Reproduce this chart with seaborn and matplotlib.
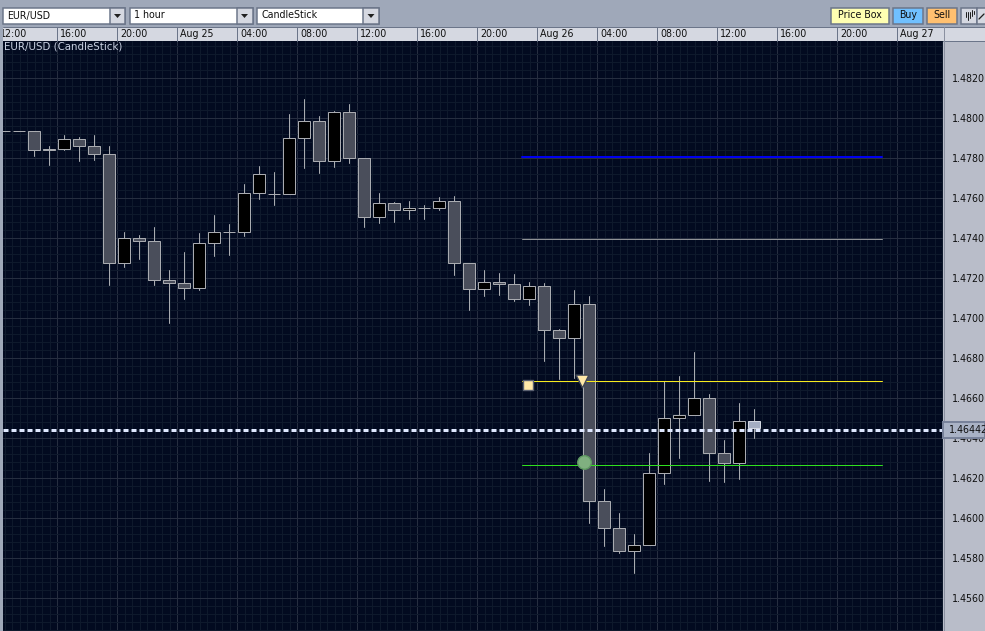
import numpy as np
import pandas as pd
import matplotlib
matplotlib.use("Agg")
import matplotlib.pyplot as plt
from matplotlib.patches import Rectangle
from matplotlib.transforms import Bbox
import seaborn as sns

# ---- EUR/USD hourly candles, hours counted from Aug 24 00:00 ----
hours = list(range(12, 63))
opens = [1.47935, 1.47935, 1.47935, 1.47845, 1.47845, 1.47895, 1.4786, 1.4782, 1.47275, 1.4740, 1.47385,
         1.4719, 1.47175, 1.4715, 1.47375, 1.4743, 1.4743, 1.47625, 1.4762, 1.4762, 1.4790, 1.47985, 1.47785,
         1.4803, 1.4780, 1.47505, 1.47575, 1.4754, 1.4755, 1.4755, 1.47585, 1.47275, 1.47145, 1.4718, 1.4717,
         1.47095, 1.4716, 1.4694, 1.469, 1.4707, 1.46085, 1.4595, 1.45835, 1.45865, 1.46225, 1.465, 1.46515,
         1.4660, 1.46325, 1.46275, 1.46485]
closes = [1.47935, 1.47935, 1.4784, 1.4784, 1.47895, 1.4786, 1.4782, 1.47275, 1.4740, 1.47385, 1.4719,
          1.47175, 1.4715, 1.47375, 1.4743, 1.4743, 1.47625, 1.4772, 1.4762, 1.4790, 1.47985, 1.47785, 1.4803,
          1.4780, 1.47505, 1.47575, 1.4754, 1.4755, 1.4755, 1.47585, 1.47275, 1.47145, 1.4718, 1.4717, 1.47095,
          1.4716, 1.4694, 1.469, 1.4707, 1.46085, 1.4595, 1.45835, 1.45865, 1.46225, 1.465, 1.46515, 1.4660,
          1.46325, 1.46275, 1.46485, 1.4645]
highs = [1.47935, 1.47935, 1.47935, 1.4786, 1.47915, 1.47905, 1.47915, 1.4786, 1.4743, 1.47415, 1.47455,
         1.4724, 1.4733, 1.47425, 1.47515, 1.4747, 1.4767, 1.4776, 1.4773, 1.4802, 1.48095, 1.4801, 1.48035,
         1.4807, 1.4780, 1.47625, 1.4758, 1.47585, 1.47565, 1.47605, 1.4761, 1.47275, 1.4724, 1.47225, 1.4722,
         1.4718, 1.47175, 1.46945, 1.4714, 1.4711, 1.46145, 1.46025, 1.4592, 1.46325, 1.46685, 1.4671, 1.4683,
         1.4662, 1.4639, 1.46575, 1.46545]
lows = [1.47935, 1.47935, 1.4781, 1.47765, 1.4784, 1.47785, 1.4779, 1.47165, 1.47255, 1.47295, 1.47165,
        1.46975, 1.47095, 1.4714, 1.4731, 1.47315, 1.4741, 1.47595, 1.47565, 1.4762, 1.4775, 1.47725, 1.47755,
        1.47775, 1.47455, 1.47475, 1.4748, 1.47495, 1.47495, 1.4754, 1.47215, 1.4704, 1.4711, 1.47115, 1.47085,
        1.47065, 1.46785, 1.46695, 1.4670, 1.45975, 1.4586, 1.45825, 1.45725, 1.45865, 1.4617, 1.4630, 1.46515,
        1.46185, 1.4618, 1.46195, 1.4640]

# ---- Horizontal order levels and the current quote ----
level_prices = [1.47805, 1.47395, 1.46685, 1.46265]
level_colors = ["#0000f0", "#8f9296", "#f7ea1e", "#2fe01e"]
level_widths = [2.0, 1.0, 1.0, 1.0]
level_span = [47, 71]
current_price = 1.46442
current_label = "1.46442"

# ---- Order markers: hour, price ----
entry_point = [47.4, 1.46665]
sell_point = [51.0, 1.46685]
exit_point = [51.1, 1.4628]

# ---- Axis text ----
time_hours = list(range(12, 76, 4))
time_labels = ["12:00", "16:00", "20:00", "Aug 25", "04:00", "08:00", "12:00", "16:00", "20:00", "Aug 26",
               "04:00", "08:00", "12:00", "16:00", "20:00", "Aug 27"]
price_ticks = [1.4820, 1.4800, 1.4780, 1.4760, 1.4740, 1.4720, 1.4700, 1.4680, 1.4660, 1.4640, 1.4620,
               1.4600, 1.4580, 1.4560]
clipped_price_tick = 1.4840

W, H = 985, 631
PX = 0.72          # one pixel at 100 dpi, in points
FONT = "DejaVu Sans"
SIZE = 6.85
CANDLE_OFFSET = 7 / 15   # candles sit slightly right of their hour line

PANEL = "#b9bdc9"
TOOLBAR = "#9fa8b9"
HEADER = "#d5d8e1"
BORDER = "#6b7589"
CHART_BG = "#020a20"
MINOR = "#0e192c"
MAJOR = "#262e40"
TEXT = "#101010"

sns.set_theme(style="dark", rc={"font.family": FONT, "axes.linewidth": 0})
fig = plt.figure(figsize=(W / 100, H / 100), dpi=100, facecolor=PANEL)

# Window furniture, laid out in pixels underneath the chart
ui = fig.add_axes([0, 0, 1, 1], zorder=-1)
ui.set_xlim(0, W)
ui.set_ylim(H, 0)
ui.axis("off")


def box(x0, y0, x1, y1, face, edge=BORDER, lw=PX * 1.5):
    ui.add_patch(Rectangle((x0, y0), x1 - x0, y1 - y0, facecolor=face, edgecolor=edge, linewidth=lw))


def label(x, y, s, ha="left", color=TEXT, size=SIZE):
    ui.text(x, y, s, ha=ha, va="center", color=color, fontsize=size, family=FONT)


ui.add_patch(Rectangle((0, 0), W, 27, facecolor=TOOLBAR, edgecolor="none"))
ui.add_patch(Rectangle((0, 27), 3, H - 27, facecolor=TOOLBAR, edgecolor="none"))
ui.add_patch(Rectangle((3, 27), W - 3, 14, facecolor=HEADER, edgecolor="none"))
ui.plot([3, W], [26.5, 26.5], color=BORDER, lw=PX)
ui.plot([3, W], [40.5, 40.5], color=BORDER, lw=PX)
ui.plot([943.5, 943.5], [27, H], color="#8a90a0", lw=PX)

for x0, x1, split, text in [(3, 125, 110, "EUR/USD"), (129.5, 252.5, 236.5, "1 hour"), (256.5, 379, 363, "CandleStick")]:
    box(x0, 7.5, x1, 23.5, "white")
    box(split, 7.5, x1, 23.5, HEADER)
    mid = (split + x1) / 2
    ui.fill([mid - 3.5, mid + 3.5, mid], [14, 14, 18], color="#202020", lw=0)
    label(x0 + 4.5, 15.5, text)

box(830.5, 7.5, 888.5, 23.5, "#ffffb2")
label(859.5, 15.5, "Price Box", ha="center")
box(892.5, 7.5, 923, 23.5, "#70c0ff")
label(907.7, 15.5, "Buy", ha="center")
box(926.5, 7.5, 956.5, 23.5, "#ffc070")
label(941.5, 15.5, "Sell", ha="center")
box(960.5, 7.5, 976.5, 23.5, HEADER)
box(977, 7.5, 990, 23.5, HEADER)
for x, y0, y1 in [(965.5, 12, 17), (967.5, 12, 20), (969.5, 12, 18), (971.5, 10, 16), (973.5, 11, 14)]:
    ui.plot([x, x], [y0, y1], color="#202020", lw=PX)
ui.plot([979, 984], [19, 14], color="#202020", lw=PX * 1.3)

# Price chart, scaled so that 1 hour is 15 px and 0.0020 is 40 px
ax = fig.add_axes([3 / W, 0, 940 / W, (H - 41) / H], zorder=1, facecolor=CHART_BG)
x_limits = (16 + (3 - 57.0) / 15, 16 + (943 - 57.0) / 15)
y_limits = (1.4820 - (H - 78.0) * 0.00005, 1.4820 + (78.0 - 41) * 0.00005)

ax.set_xticks(time_hours)
ax.set_xticks(np.arange(8, 80, 0.5), minor=True)
ax.set_yticks(price_ticks)
ax.set_yticks(np.arange(1.4540, 1.4850, 0.0004), minor=True)
ax.grid(which="minor", color=MINOR, lw=PX)
ax.grid(which="major", color=MAJOR, lw=PX)
ax.set_axisbelow(True)
ax.yaxis.tick_right()
ax.set_yticklabels([f"{p:.4f}" for p in price_ticks], family=FONT, fontsize=SIZE, color=TEXT)
ax.tick_params(which="both", length=0, bottom=False, top=False, left=False, right=False)
ax.tick_params(axis="y", which="major", pad=8.5 * 0.72)
ax.tick_params(axis="x", which="both", labelbottom=False, labeltop=False)

candles = pd.DataFrame({"hour": hours, "open": opens, "close": closes, "high": highs, "low": lows})
candles["x"] = candles["hour"] + CANDLE_OFFSET

# Wicks first, one line per candle, so the bodies sit on top of them
wicks = candles.melt(id_vars=["hour", "x"], value_vars=["high", "low"], value_name="price")
sns.lineplot(data=wicks, x="x", y="price", units="hour", estimator=None, color="#a9abb0", lw=PX,
             sort=False, legend=False, ax=ax, zorder=3)

is_up = candles["close"] > candles["open"]
fills = list(np.where(is_up, "#000000", "#4a4e5b"))
edges = ["#a9abb0"] * len(candles)
fills[-1] = "#a4adc2"          # the candle still forming
edges[-1] = "#d3d7e2"
ax.bar(candles["x"], (candles["close"] - candles["open"]).abs(),
       bottom=candles[["open", "close"]].min(axis=1), width=0.8, color=fills, edgecolor=edges, linewidth=PX, zorder=4)

# Order levels
for price, color, width in zip(level_prices, level_colors, level_widths):
    level = pd.DataFrame({"x": level_span, "y": [price, price]})
    sns.lineplot(data=level, x="x", y="y", color=color, lw=width * PX, legend=False, ax=ax, zorder=5)

# Current quote: dashed line across the chart and a tag on the price scale
ax.axhline(current_price, color="#dfe8ff", lw=3 * PX, dashes=(5 / 3, 3 / 3), zorder=6)
yaxis_tf = ax.get_yaxis_transform()
tag_height = 0.00080
ax.add_patch(Rectangle((1.0005, current_price - tag_height / 2), 42 / 940, tag_height, transform=yaxis_tf,
                       facecolor="#a9b2c5", edgecolor="#78829a", linewidth=2 * PX, clip_on=False, zorder=7))
ax.text(1 + 6 / 940, current_price, current_label, transform=yaxis_tf, va="center", ha="left", color=TEXT,
        family=FONT, fontsize=SIZE, clip_on=False, zorder=8)

# Order markers
marker_sets = [(entry_point, "s", 58, "#ffe8a8", "#5a6070"),
               (sell_point, "v", 85, "#ffe8a8", "#404656"),
               (exit_point, "o", 95, "#80b080", "#5f9a62")]
for point, shape, area, face, edge in marker_sets:
    sns.scatterplot(x=[point[0]], y=[point[1]], marker=shape, s=area, color=face, edgecolor=edge, linewidth=1.0,
                    legend=False, ax=ax, zorder=9)
ax.set_xlabel("")
ax.set_ylabel("")

# Chart caption
ax.text(1 / 940, 1 - 5.5 / 590, "EUR/USD (CandleStick)", transform=ax.transAxes, va="center", ha="left",
        color="#c9d1e2", family=FONT, fontsize=SIZE + 0.5, zorder=10)

# Time scale above the chart, with a divider at every labelled hour
xaxis_tf = ax.get_xaxis_transform()
header_clip = Bbox([[3, H - 41], [943, H - 27]])
for hour, text in zip(time_hours, time_labels):
    ax.plot([hour, hour], [1, 1 + 14 / 590], transform=xaxis_tf, color=BORDER, lw=PX, clip_on=False, zorder=2)
    stamp = ax.annotate(text, (hour, 1 + 6.5 / 590), xycoords=xaxis_tf, xytext=(3, 0), textcoords="offset pixels",
                        va="center", ha="left", color=TEXT, family=FONT, fontsize=SIZE,
                        annotation_clip=False, zorder=3)
    stamp.set_clip_on(True)
    stamp.set_clip_box(header_clip)

# The topmost price label is cut off by the time scale
top_tick = ax.text(1 + 8.5 / 940, clipped_price_tick, f"{clipped_price_tick:.4f}", transform=yaxis_tf, va="center",
                   ha="left", color=TEXT, family=FONT, fontsize=SIZE, clip_on=True)
top_tick.set_clip_box(Bbox([[943, 0], [W, H - 41]]))

ax.set_xlim(*x_limits)
ax.set_ylim(*y_limits)

fig.savefig("out.png", dpi=100, facecolor=fig.get_facecolor())
